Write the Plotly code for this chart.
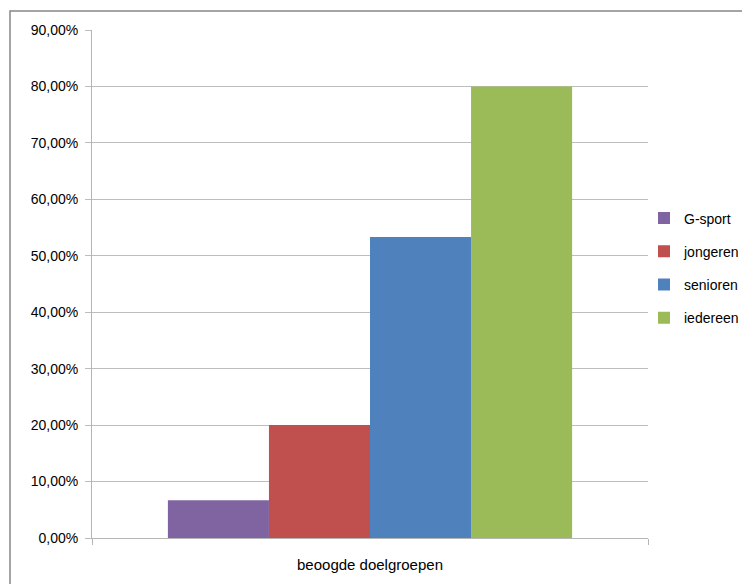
import plotly.graph_objects as go

categories = ["beoogde doelgroepen"]
series_names = ["G-sport", "jongeren", "senioren", "iedereen"]
series_values = [[0.0667], [0.20], [0.5333], [0.80]]
series_colors = ["#8064A2", "#C0504D", "#4F81BD", "#9BBB59"]
y_tickvals = [0, 0.1, 0.2, 0.3, 0.4, 0.5, 0.6, 0.7, 0.8, 0.9]
y_ticktext = ["0,00%", "10,00%", "20,00%", "30,00%", "40,00%", "50,00%",
              "60,00%", "70,00%", "80,00%", "90,00%"]

FONT = "Liberation Sans"

fig = go.Figure()
for i, (name, vals, col) in enumerate(zip(series_names, series_values, series_colors)):
    fig.add_trace(go.Bar(
        x=categories, y=vals, name=name, marker=dict(color=col, line=dict(width=0)),
        legendgroup=f"g{i}",
    ))

# page body has an 8px margin, so figure coordinates = screen - 8
W, H = 742, 576
L, R, T, B = 84, 102, 22, 46
pw, ph = W - L - R, H - T - B

fig.update_layout(
    width=W, height=H,
    margin=dict(l=L, r=R, t=T, b=B, pad=0, autoexpand=False),
    paper_bgcolor="white", plot_bgcolor="white",
    barmode="group", bargap=0.273, bargroupgap=0,
    font=dict(family=FONT, size=14, color="black"),
    showlegend=True,
    legend=dict(x=(636 - L) / pw, y=(H - B - 260) / ph, xanchor="left", yanchor="middle",
                traceorder="grouped", tracegroupgap=12, font=dict(size=14),
                bgcolor="rgba(0,0,0,0)"),
    xaxis=dict(showgrid=False, showline=True, linecolor="#B5B5B5", linewidth=1,
               ticks="outside", tickson="boundaries", ticklen=6, tickcolor="#B5B5B5",
               tickfont=dict(size=15), range=[-0.5, 0.5], ticklabelstandoff=13),
    yaxis=dict(range=[0, 0.9], tickvals=y_tickvals, ticktext=y_ticktext,
               showgrid=True, gridcolor="#BDBDBD", gridwidth=1,
               showline=True, linecolor="#B5B5B5", linewidth=1,
               ticks="outside", ticklen=6, tickcolor="#BDBDBD",
               tickfont=dict(size=14), zeroline=False, ticklabelstandoff=4),
)

# outer chart border (like the spreadsheet chart frame)
fig.add_shape(type="rect", xref="paper", yref="paper",
              x0=(2 - L) / pw, x1=(770 - L) / pw,
              y0=(H - B - 600) / ph, y1=1 + (T - 3) / ph,
              line=dict(color="#868686", width=1.5), fillcolor="rgba(0,0,0,0)", layer="below")

fig.write_html("out.html")
